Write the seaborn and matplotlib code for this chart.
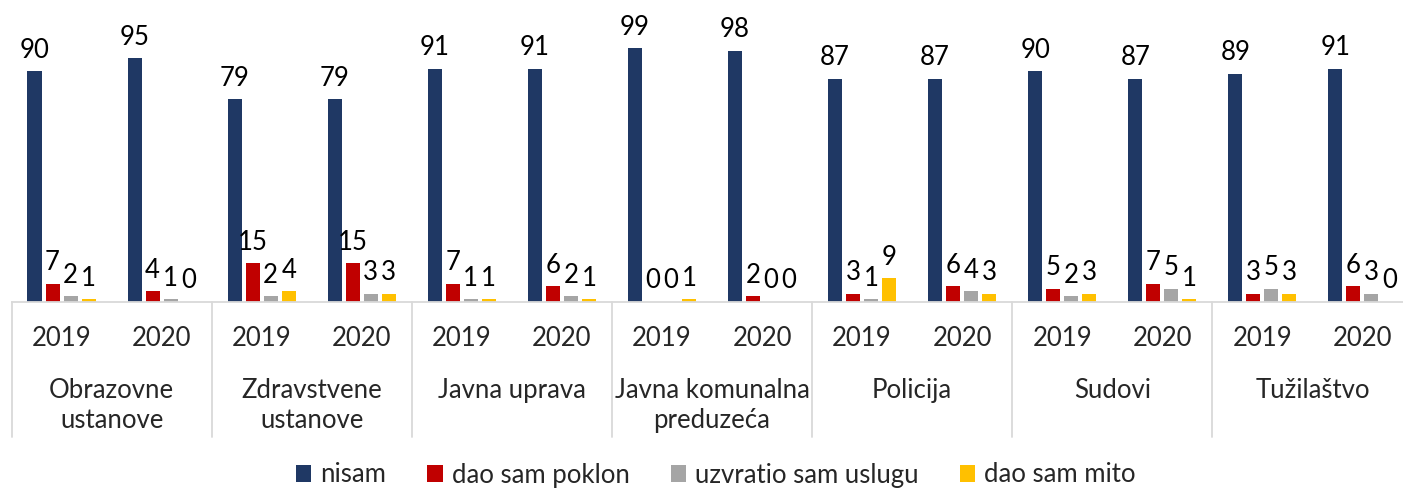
import numpy as np
import pandas as pd
import matplotlib.pyplot as plt
import matplotlib.transforms as mtransforms
import seaborn as sns

# ---------------------------------------------------------------------------
# data
# ---------------------------------------------------------------------------
institutions = ["Obrazovne\nustanove", "Zdravstvene\nustanove", "Javna uprava",
                "Javna komunalna\npreduzeća", "Policija", "Sudovi", "Tužilaštvo"]
years = ["2019", "2020"]
series_names = ["nisam", "dao sam poklon", "uzvratio sam uslugu", "dao sam mito"]

nisam = [90, 95, 79, 79, 91, 91, 99, 98, 87, 87, 90, 87, 89, 91]
poklon = [7, 4, 15, 15, 7, 6, 0, 2, 3, 6, 5, 7, 3, 6]
usluga = [2, 1, 2, 3, 1, 2, 0, 0, 1, 4, 2, 5, 5, 3]
mito = [1, 0, 4, 3, 1, 1, 1, 0, 9, 3, 3, 1, 3, 0]

colors = ["#1F3864", "#C00000", "#A5A5A5", "#FFC000"]

sns.set_style("white")
plt.rcParams["font.family"] = ["Lato", "DejaVu Sans"]

slots = [f"{inst} {yr}" for inst in institutions for yr in years]
rows = []
for name, vals in zip(series_names, [nisam, poklon, usluga, mito]):
    for slot, v in zip(slots, vals):
        rows.append({"slot": slot, "series": name, "value": v})
df = pd.DataFrame(rows)

# ---------------------------------------------------------------------------
# figure
# ---------------------------------------------------------------------------
W, H = 1403, 488
BASE, TOP = 301.5, 19.9
fig = plt.figure(figsize=(W / 100, H / 100), dpi=100)
ax = fig.add_axes([11.5 / W, (H - BASE) / H, 1401 / W, (BASE - TOP) / H])

sns.barplot(data=df, x="slot", y="value", hue="series", order=slots,
            hue_order=series_names, palette=colors, width=0.72, gap=0.22,
            saturation=1, errorbar=None, linewidth=0, ax=ax)

for cont in ax.containers:
    ax.bar_label(cont, fmt="%d", padding=6, fontsize=18.5, color="black")

ax.set_ylim(0, 110)
ax.set_xlim(-0.5, 13.5)
ax.set_xticks([])
ax.set_yticks([])
ax.set_xlabel("")
ax.set_ylabel("")
for s in ["top", "left", "right"]:
    ax.spines[s].set_visible(False)
ax.spines["bottom"].set_color("#D9D9D9")
ax.spines["bottom"].set_linewidth(1.3)

trans = mtransforms.blended_transform_factory(ax.transData, ax.transAxes)


def yfrac(py):
    return (BASE - py) / (BASE - TOP)


# group separators
for xb in np.arange(-0.5, 14, 2):
    ax.plot([xb, xb], [0, yfrac(437)], transform=trans, color="#D9D9D9",
            lw=1.3, clip_on=False)

# two-level category labels
for k in range(len(slots)):
    ax.text(k, yfrac(346), years[k % 2], ha="center", va="baseline",
            fontsize=18.5, transform=trans)
for i, inst in enumerate(institutions):
    for j, line in enumerate(inst.split("\n")):
        ax.text(2 * i + 0.5, yfrac(398 + 30 * j), line, ha="center",
                va="baseline", fontsize=18.5, transform=trans)

handles, labels = ax.get_legend_handles_labels()
ax.get_legend().remove()
fig.legend(handles, labels, loc="center", bbox_to_anchor=(716 / W, 1 - 475 / H),
           ncol=4, frameon=False, fontsize=18.5, handlelength=0.6,
           handleheight=0.6, handletextpad=0.35, columnspacing=1.6)

fig.savefig("out.png", dpi=100)
